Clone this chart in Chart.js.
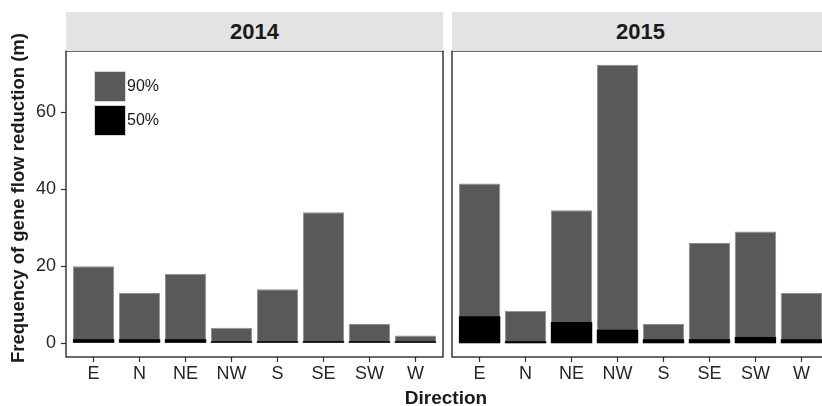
<!DOCTYPE html>
<html><head><meta charset="utf-8">
<script src="https://cdn.jsdelivr.net/npm/chart.js@4"></script>
<style>
html,body{margin:0;padding:0;background:#fff;overflow:hidden;width:822px;height:406px;position:relative;font-family:"Liberation Sans",Arial,sans-serif;color:#1a1a1a;}
.abs{position:absolute;}
.wrap{position:absolute;left:0;top:0;height:406px;}
.strip{position:absolute;top:12px;height:39px;background:#e3e3e3;color:#1a1a1a;font-weight:bold;font-size:22px;display:flex;align-items:center;justify-content:center;}
.leg{display:flex;align-items:center;height:32px;margin-bottom:2px;}
.key{width:30px;height:29px;border:1px solid #d6d6d6;}
.lt{font-size:16px;margin-left:1px;color:#1a1a1a;}
#ytitle{position:absolute;left:18px;top:198px;transform:translate(-50%,-50%) rotate(-90deg);white-space:nowrap;font-weight:bold;font-size:18.5px;}
#xtitle{position:absolute;left:446px;top:398px;transform:translate(-50%,-50%);white-space:nowrap;font-weight:bold;font-size:19px;}
</style></head><body>
<div class="wrap" style="width:822px"><canvas id="c1" width="822" height="406" style="width:822px;height:406px"></canvas></div>
<div class="wrap" style="width:830px"><canvas id="c2" width="830" height="406" style="width:830px;height:406px"></canvas></div>
<div id="s1" class="strip" style="left:66px;width:377px"></div>
<div id="s2" class="strip" style="left:452px;width:377px"></div>
<div id="legend" class="abs" style="left:94px;top:70px"></div>
<div id="ytitle"></div>
<div id="xtitle"></div>
<script>
// ---- data ----
const directions = ["E","N","NE","NW","S","SE","SW","W"];
const panels = ["2014","2015"];
const seriesNames = ["90%","50%"];
const seriesColors = ["#595959","#000000"];
const y2014_90 = [20, 13, 18, 4, 14, 34, 5, 2];
const y2014_50 = [1, 1, 1, 0.5, 0.5, 0.5, 0.5, 0.5];
const y2015_90 = [41.5, 8.4, 34.5, 72.3, 5, 26, 29, 13];
const y2015_50 = [7, 0.5, 5.5, 3.5, 1, 1, 1.6, 1];
const yTicks = [0, 20, 40, 60];
const yTitle = "Frequency of gene flow reduction (m)";
const xTitle = "Direction";

document.getElementById('s1').textContent = panels[0];
document.getElementById('s2').textContent = panels[1];
document.getElementById('ytitle').textContent = yTitle;
document.getElementById('xtitle').textContent = xTitle;
const leg = document.getElementById('legend');
seriesNames.forEach((n,i)=>{
  const row=document.createElement('div'); row.className='leg';
  const k=document.createElement('span'); k.className='key'; k.style.background=seriesColors[i];
  const t=document.createElement('span'); t.className='lt'; t.textContent=n;
  row.appendChild(k); row.appendChild(t); leg.appendChild(row);
});

const framePlugin = {id:'frame', afterDatasetsDraw(chart){
  const a=chart.chartArea, ctx=chart.ctx; ctx.save();
  ctx.strokeStyle='#1a1a1a'; ctx.lineWidth=1.3;
  ctx.strokeRect(a.left,a.top,a.right-a.left,a.bottom-a.top); ctx.restore();
}};

const tickFont = {family:'"Liberation Sans", Arial, sans-serif', size:18};
const tickColor = '#262626';
const yMin = -3.6, yMax = 75.9;

function makeChart(id, v90, v50, showY, padding){
  const pts = arr => arr.map((v,i)=>({x:i,y:v}));
  const yScale = {display:showY, min:yMin, max:yMax,
    afterBuildTicks:s=>{s.ticks=yTicks.map(v=>({value:v}));},
    border:{display:false},
    grid:{display:true, drawOnChartArea:false, drawTicks:true, tickLength:5, tickColor:'#333', tickWidth:1.2},
    ticks:{font:tickFont, color:tickColor, padding:5}
  };
  if (showY) yScale.afterFit = s=>{s.width=66;};
  return new Chart(document.getElementById(id), {
    type:'bar',
    data:{datasets:[
      {label:seriesNames[1], data:pts(v50), backgroundColor:seriesColors[1], borderWidth:0, grouped:false, barPercentage:0.9, categoryPercentage:1},
      {label:seriesNames[0], data:pts(v90), backgroundColor:seriesColors[0], borderColor:'#8e8e8e', borderWidth:1, grouped:false, barPercentage:0.9, categoryPercentage:1}
    ]},
    options:{
      responsive:false, animation:false, devicePixelRatio:1,
      layout:{padding:padding},
      plugins:{legend:{display:false}, tooltip:{enabled:false}, title:{display:false}},
      scales:{
        x:{type:'linear', offset:false, min:-0.6, max:directions.length-1+0.6,
          afterBuildTicks:s=>{s.ticks=directions.map((d,i)=>({value:i}));},
          afterFit:s=>{s.height=49;},
          border:{display:false},
          grid:{display:true, offset:false, drawOnChartArea:false, drawTicks:true, tickLength:5, tickColor:'#333', tickWidth:1.2},
          ticks:{font:tickFont, color:tickColor, padding:1, maxRotation:0, autoSkip:false, callback:v=>directions[v]}
        },
        y:yScale
      }
    },
    plugins:[framePlugin]
  });
}
makeChart('c1', y2014_90, y2014_50, true, {left:0, top:51, right:379, bottom:0});
makeChart('c2', y2015_90, y2015_50, false, {left:452, top:51, right:1, bottom:0});
</script>
</body></html>
